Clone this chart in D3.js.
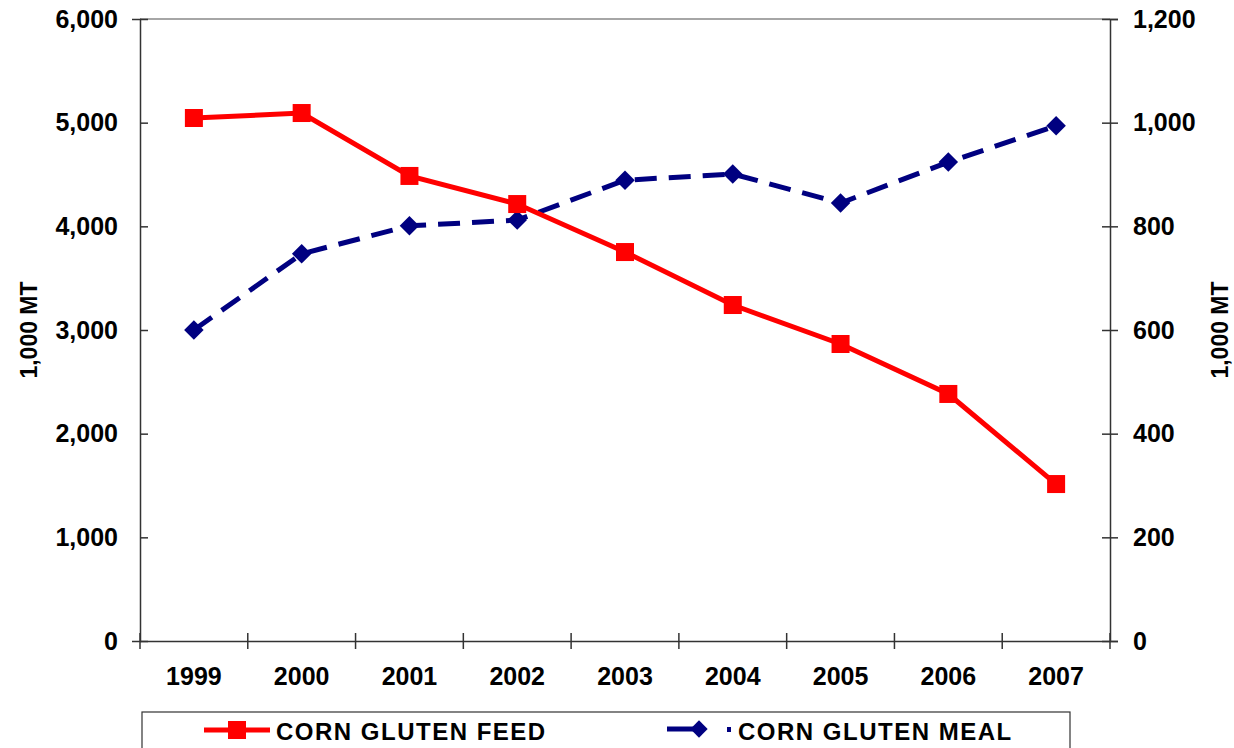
<!DOCTYPE html>
<html>
<head>
<meta charset="utf-8">
<script src="https://cdn.jsdelivr.net/npm/d3@7"></script>
<style>
  body { margin: 0; background: #fff; }
  text { font-family: "Liberation Sans", Arial, sans-serif; font-weight: bold; fill: #000; }
</style>
</head>
<body>
<div id="chart"></div>
<script>
var years = ["1999", "2000", "2001", "2002", "2003", "2004", "2005", "2006", "2007"]
var feed = [5045, 5093, 4486, 4215, 3752, 3241, 2865, 2383, 1514]
var meal = [600, 747, 801, 812, 889, 901, 845, 924, 994]
var leftTicks = [0, 1000, 2000, 3000, 4000, 5000, 6000]
var rightTicks = [0, 200, 400, 600, 800, 1000, 1200]

var W = 1234, H = 748
var plot = {left: 140, right: 1110, top: 19, bottom: 641}

var svg = d3.select("#chart").append("svg")
  .attr("width", W)
  .attr("height", H)

var x = d3.scaleBand().domain(years).range([plot.left, plot.right])
var yL = d3.scaleLinear().domain([0, 6000]).range([plot.bottom, plot.top])
var yR = d3.scaleLinear().domain([0, 1200]).range([plot.bottom, plot.top])
var fmt = d3.format(",")

// top border
svg.append("line")
  .attr("x1", plot.left).attr("x2", plot.right)
  .attr("y1", plot.top).attr("y2", plot.top)
  .attr("stroke", "#888").attr("stroke-width", 1.5)

var gL = svg.append("g")
  .attr("transform", "translate(" + plot.left + ",0)")
  .call(d3.axisLeft(yL).tickValues(leftTicks).tickFormat(fmt).tickSize(8).tickPadding(14))
var gR = svg.append("g")
  .attr("transform", "translate(" + plot.right + ",0)")
  .call(d3.axisRight(yR).tickValues(rightTicks).tickFormat(fmt).tickSize(8).tickPadding(15))
var gX = svg.append("g")
  .attr("transform", "translate(0," + plot.bottom + ")")
  .call(d3.axisBottom(x).tickSize(0).tickPadding(26))

// ticks between categories
gX.selectAll(".sep")
  .data(d3.range(years.length + 1))
  .enter().append("line")
  .attr("class", "sep")
  .attr("x1", i => plot.left + i * x.step())
  .attr("x2", i => plot.left + i * x.step())
  .attr("y1", -8).attr("y2", 8)
  .attr("stroke", "#333").attr("stroke-width", 1.5)

// ticks cross the axis line
gR.selectAll(".tick line").attr("x1", -8)
gL.selectAll(".tick line").attr("x2", 8)

svg.selectAll(".domain").attr("stroke", "#333").attr("stroke-width", 1.5)
svg.selectAll(".tick line").attr("stroke", "#333").attr("stroke-width", 1.5)
svg.selectAll(".tick text")
  .attr("font-size", 25)
  .style("font-size", "25px")
  .style("font-family", "Liberation Sans, Arial, sans-serif")
  .style("font-weight", "bold")
  .attr("fill", "#000")

// axis titles
svg.append("text")
  .attr("transform", "translate(37," + ((plot.top + plot.bottom) / 2) + ") rotate(-90)")
  .attr("text-anchor", "middle")
  .style("font-size", "23px")
  .text("1,000 MT")
svg.append("text")
  .attr("transform", "translate(1228," + ((plot.top + plot.bottom) / 2) + ") rotate(-90)")
  .attr("text-anchor", "middle")
  .style("font-size", "23px")
  .text("1,000 MT")

var cx = d => x(d) + x.bandwidth() / 2

// corn gluten meal (right axis)
var lineMeal = d3.line().x((d, i) => cx(years[i])).y(d => yR(d))
svg.append("path")
  .datum(meal)
  .attr("d", lineMeal)
  .attr("fill", "none")
  .attr("stroke", "#000080")
  .attr("stroke-width", 5)
  .attr("stroke-dasharray", "22,12")

svg.selectAll(".diamond")
  .data(meal)
  .enter().append("path")
  .attr("class", "diamond")
  .attr("d", d3.symbol().type(d3.symbolSquare).size(190))
  .attr("transform", (d, i) => "translate(" + cx(years[i]) + "," + yR(d) + ") rotate(45)")
  .attr("fill", "#000080")

// corn gluten feed (left axis)
var lineFeed = d3.line().x((d, i) => cx(years[i])).y(d => yL(d))
svg.append("path")
  .datum(feed)
  .attr("d", lineFeed)
  .attr("fill", "none")
  .attr("stroke", "#ff0000")
  .attr("stroke-width", 5)

svg.selectAll(".sq")
  .data(feed)
  .enter().append("rect")
  .attr("class", "sq")
  .attr("x", (d, i) => cx(years[i]) - 9)
  .attr("y", d => yL(d) - 9)
  .attr("width", 18).attr("height", 18)
  .attr("fill", "#ff0000")

// legend
var leg = svg.append("g")
leg.append("rect")
  .attr("x", 142).attr("y", 712)
  .attr("width", 928).attr("height", 60)
  .attr("fill", "#fff").attr("stroke", "#333").attr("stroke-width", 1.2)

leg.append("line")
  .attr("x1", 204).attr("x2", 270).attr("y1", 730).attr("y2", 730)
  .attr("stroke", "#ff0000").attr("stroke-width", 5)
leg.append("rect")
  .attr("x", 228).attr("y", 721).attr("width", 18).attr("height", 18)
  .attr("fill", "#ff0000")
leg.append("text")
  .attr("x", 276).attr("y", 740)
  .style("font-size", "24px")
  .style("letter-spacing", "1.5px")
  .text("CORN GLUTEN FEED")

leg.append("line")
  .attr("x1", 667).attr("x2", 700).attr("y1", 729).attr("y2", 729)
  .attr("stroke", "#000080").attr("stroke-width", 5)
leg.append("path")
  .attr("d", d3.symbol().type(d3.symbolSquare).size(150))
  .attr("transform", "translate(699,729) rotate(45)")
  .attr("fill", "#000080")
leg.append("rect")
  .attr("x", 727).attr("y", 727).attr("width", 4).attr("height", 5)
  .attr("fill", "#000080")
leg.append("text")
  .attr("x", 738).attr("y", 740)
  .style("font-size", "24px")
  .style("letter-spacing", "1.5px")
  .text("CORN GLUTEN MEAL")
</script>
</body>
</html>
